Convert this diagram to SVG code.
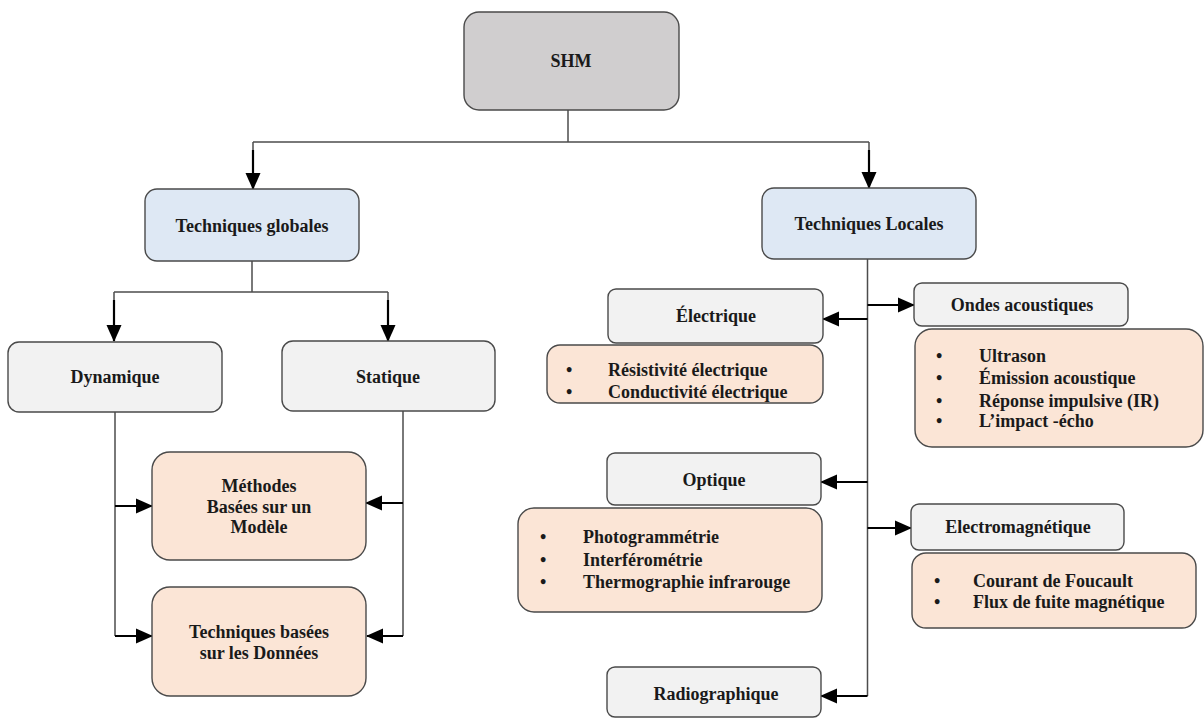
<svg xmlns="http://www.w3.org/2000/svg" width="1204" height="718" viewBox="0 0 1204 718">
  <defs>
    <marker id="arrow" markerUnits="userSpaceOnUse" markerWidth="17" markerHeight="16" refX="16" refY="8" orient="auto" overflow="visible">
      <path d="M0,0.5 L17,8 L0,15.5 Z" fill="#000"/>
    </marker>
    <style>
      .box { stroke: #4a4a4a; stroke-width: 1.4; }
      .root { fill: #d0cecf; }
      .blue { fill: #dee8f4; }
      .grey { fill: #f2f2f2; }
      .peach { fill: #fbe5d6; }
      text { font-family: "Liberation Serif", "Times New Roman", serif; font-weight: bold; font-size: 18px; fill: #1a1a1a; }
      .c { text-anchor: middle; }
      .trunk { fill: none; stroke: #4d4d4d; stroke-width: 1.5; }
      .stub { fill: none; stroke: #000; stroke-width: 2.2; marker-end: url(#arrow); }
    </style>
  </defs>
  <rect width="1204" height="718" fill="#fff"/>

  <!-- connectors -->
  <g id="connectors">
    <path class="trunk" d="M568,110 V142 M253,142 H869 M253,142 V170 M869,142 V170"/>
    <path class="stub" d="M253,150 V189"/>
    <path class="stub" d="M869,150 V188"/>

    <path class="trunk" d="M252,261 V292 M114,292 H388 M114,292 V320 M388,292 V320"/>
    <path class="stub" d="M114,300 V341"/>
    <path class="stub" d="M388,300 V341"/>

    <path class="trunk" d="M115,412 V636"/>
    <path class="stub" d="M115,506 H152"/>
    <path class="stub" d="M115,636 H152"/>

    <path class="trunk" d="M403,411 V636"/>
    <path class="stub" d="M403,503 H366"/>
    <path class="stub" d="M403,636 H367"/>

    <path class="trunk" d="M867.5,259 V696"/>
    <path class="stub" d="M867.5,319 H823"/>
    <path class="stub" d="M867.5,305 H914"/>
    <path class="stub" d="M867.5,482 H821"/>
    <path class="stub" d="M867.5,528 H911"/>
    <path class="stub" d="M867.5,696 H821"/>
  </g>

  <!-- root -->
  <g id="shm">
    <rect class="box root" x="464" y="12" width="215" height="98" rx="15"/>
    <text class="c" x="571" y="67">SHM</text>
  </g>

  <!-- first level -->
  <g id="techniques-globales">
    <rect class="box blue" x="145" y="189" width="214" height="72" rx="12"/>
    <text class="c" x="252" y="232">Techniques globales</text>
  </g>
  <g id="techniques-locales">
    <rect class="box blue" x="762" y="188" width="214" height="71" rx="12"/>
    <text class="c" x="869" y="230">Techniques Locales</text>
  </g>

  <!-- global branch -->
  <g id="dynamique">
    <rect class="box grey" x="8" y="342" width="214" height="70" rx="11"/>
    <text class="c" x="115" y="383">Dynamique</text>
  </g>
  <g id="statique">
    <rect class="box grey" x="282" y="341" width="213" height="70" rx="11"/>
    <text class="c" x="388" y="383">Statique</text>
  </g>
  <g id="methodes-modele">
    <rect class="box peach" x="152" y="452" width="214" height="108" rx="18"/>
    <text class="c" x="259" y="492">Méthodes</text>
    <text class="c" x="259" y="513">Basées sur un</text>
    <text class="c" x="259" y="533">Modèle</text>
  </g>
  <g id="techniques-donnees">
    <rect class="box peach" x="152" y="587" width="214" height="109" rx="18"/>
    <text class="c" x="259" y="638">Techniques basées</text>
    <text class="c" x="259" y="659">sur les Données</text>
  </g>

  <!-- local branch -->
  <g id="electrique">
    <rect class="box grey" x="608" y="289" width="215" height="54" rx="8"/>
    <text class="c" x="716" y="322">Électrique</text>
  </g>
  <g id="electrique-liste">
    <rect class="box peach" x="547" y="345" width="276" height="58" rx="13"/>
    <text x="566" y="376">•</text><text x="608" y="376">Résistivité électrique</text>
    <text x="566" y="398">•</text><text x="608" y="398">Conductivité électrique</text>
  </g>

  <g id="ondes-acoustiques">
    <rect class="box grey" x="914" y="283" width="214" height="43" rx="8"/>
    <text class="c" x="1022" y="311">Ondes acoustiques</text>
  </g>
  <g id="ondes-liste">
    <rect class="box peach" x="915" y="329" width="288" height="118" rx="17"/>
    <text x="936" y="362">•</text><text x="979" y="362">Ultrason</text>
    <text x="936" y="384">•</text><text x="979" y="384">Émission acoustique</text>
    <text x="936" y="407">•</text><text x="979" y="407">Réponse impulsive (IR)</text>
    <text x="936" y="427">•</text><text x="979" y="427">L’impact -écho</text>
  </g>

  <g id="optique">
    <rect class="box grey" x="607" y="453" width="214" height="52" rx="8"/>
    <text class="c" x="714" y="486">Optique</text>
  </g>
  <g id="optique-liste">
    <rect class="box peach" x="518" y="508" width="304" height="104" rx="16"/>
    <text x="540" y="543">•</text><text x="583" y="543">Photogrammétrie</text>
    <text x="540" y="566">•</text><text x="583" y="566">Interférométrie</text>
    <text x="540" y="588">•</text><text x="583" y="588">Thermographie infrarouge</text>
  </g>

  <g id="electromagnetique">
    <rect class="box grey" x="911" y="504" width="213" height="46" rx="8"/>
    <text class="c" x="1018" y="533">Electromagnétique</text>
  </g>
  <g id="electromagnetique-liste">
    <rect class="box peach" x="912" y="553" width="284" height="75" rx="14"/>
    <text x="934" y="587">•</text><text x="973" y="587">Courant de Foucault</text>
    <text x="934" y="608">•</text><text x="973" y="608">Flux de fuite magnétique</text>
  </g>

  <g id="radiographique">
    <rect class="box grey" x="607" y="667" width="214" height="50" rx="8"/>
    <text class="c" x="716" y="700">Radiographique</text>
  </g>
</svg>
